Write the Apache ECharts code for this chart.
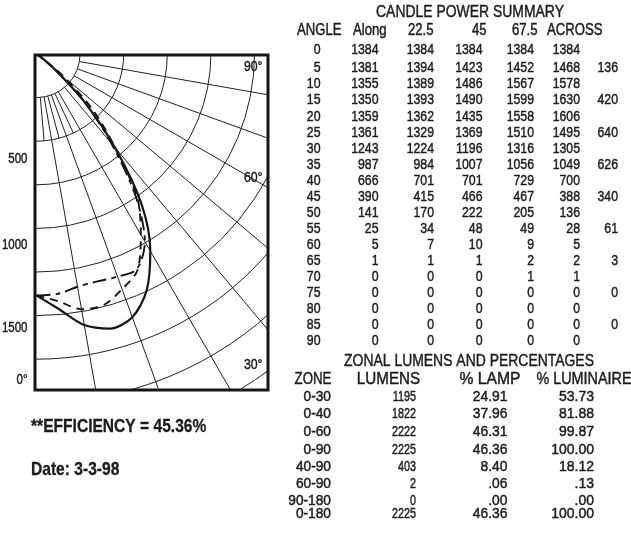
<!DOCTYPE html>
<html>
<head>
<meta charset="utf-8">
<script src="https://cdn.jsdelivr.net/npm/echarts@6/dist/echarts.min.js"></script>
<style>
  html, body { margin: 0; padding: 0; background: #fff; }
  #chart { width: 631px; height: 540px; }
</style>
</head>
<body>
<div id="chart"></div>
<script>
// candle power summary (cd) by vertical angle
var angles = [0, 5, 10, 15, 20, 25, 30, 35, 40, 45, 50, 55, 60, 65, 70, 75, 80, 85, 90];
var along  = [1384, 1381, 1355, 1350, 1359, 1361, 1243, 987, 666, 390, 141, 25, 5, 1, 0, 0, 0, 0, 0];
var cp225  = [1384, 1394, 1389, 1393, 1362, 1329, 1224, 984, 701, 415, 170, 34, 7, 1, 0, 0, 0, 0, 0];
var cp45   = [1384, 1423, 1486, 1490, 1435, 1369, 1196, 1007, 701, 466, 222, 48, 10, 1, 0, 0, 0, 0, 0];
var cp675  = [1384, 1452, 1567, 1599, 1558, 1510, 1316, 1056, 729, 467, 205, 49, 9, 2, 1, 0, 0, 0, 0];
var across = [1384, 1468, 1578, 1630, 1606, 1495, 1305, 1049, 700, 388, 136, 28, 5, 2, 1, 0, 0, 0, 0];
// last column, given on the odd rows (5, 15, 25 ...)
var zoneCol = [136, 420, 640, 626, 340, 61, 3, 0, 0];

// zonal lumens and percentages
var zones    = ['0-30', '0-40', '0-60', '0-90', '40-90', '60-90', '90-180', '0-180'];
var lumens   = [1195, 1822, 2222, 2225, 403, 2, 0, 2225];
var pctLamp  = ['24.91', '37.96', '46.31', '46.36', '8.40', '.06', '.00', '46.36'];
var pctLum   = ['53.73', '81.88', '99.87', '100.00', '18.12', '.13', '.00', '100.00'];

var radiusLabels = ['500', '1000', '1500', '0°'];
var angleLabels = ['90°', '60°', '30°'];
var gridAngles = [10, 20, 30, 40, 50, 60, 70, 80];
var fineAngles = [5, 15, 25];

var FONT = '"Liberation Sans", Arial, Helvetica, sans-serif';
var INK = '#1e1b1c';

var chart = echarts.init(document.getElementById('chart'));

function toPolar(vals) {
  return vals.map(function (v, i) { return [v, angles[i]]; });
}

// text squeezed horizontally to look like a condensed face
function txt(s, x, y, align, size, sx, bold) {
  return {
    type: 'text', z: 20, silent: true,
    x: x, y: y, scaleX: sx || 0.82,
    style: {
      text: s, x: 0, y: 0, textAlign: align || 'left', textVerticalAlign: 'middle',
      font: (bold ? 'bold ' : '') + size + 'px ' + FONT, fill: INK,
      stroke: INK, lineWidth: bold ? 0.3 : 0.45
    }
  };
}

var series = [];
gridAngles.forEach(function (a) {
  series.push({
    type: 'line', coordinateSystem: 'polar', silent: true, symbol: 'none', z: 2,
    lineStyle: { color: '#222', width: 1 },
    data: [[250, a], [2500, a]]
  });
});
fineAngles.forEach(function (a) {
  series.push({
    type: 'line', coordinateSystem: 'polar', silent: true, symbol: 'none', z: 2,
    lineStyle: { color: '#222', width: 1 },
    data: [[250, a], [500, a]]
  });
});

series.push({
  name: 'Across', type: 'line', coordinateSystem: 'polar', symbol: 'none', smooth: 0.3, z: 5,
  lineStyle: { color: '#151515', width: 2.2 },
  data: toPolar(across)
});
series.push({
  name: 'Along', type: 'line', coordinateSystem: 'polar', symbol: 'none', smooth: 0.3, z: 5,
  lineStyle: { color: '#151515', width: 1.9, type: [14, 5, 5, 5] },
  data: toPolar(along)
});
series.push({
  name: '45', type: 'line', coordinateSystem: 'polar', symbol: 'none', smooth: 0.3, z: 5,
  lineStyle: { color: '#151515', width: 1.9, type: [8, 6] },
  data: toPolar(cp45)
});

var g = [];
// white masks outside the plot frame
g.push({ type: 'rect', z: 10, silent: true, shape: { x: 0, y: 0, width: 631, height: 54 }, style: { fill: '#fff' } });
g.push({ type: 'rect', z: 10, silent: true, shape: { x: 0, y: 0, width: 34, height: 540 }, style: { fill: '#fff' } });
g.push({ type: 'rect', z: 10, silent: true, shape: { x: 269, y: 0, width: 362, height: 540 }, style: { fill: '#fff' } });
g.push({ type: 'rect', z: 10, silent: true, shape: { x: 0, y: 391, width: 631, height: 149 }, style: { fill: '#fff' } });
// frame
g.push({ type: 'rect', z: 20, silent: true, shape: { x: 35, y: 55, width: 233, height: 335 },
  style: { fill: 'none', stroke: '#151515', lineWidth: 3 } });

// plot labels
var rlY = [159, 245, 328, 380];
radiusLabels.forEach(function (s, i) { g.push(txt(s, 27.5, rlY[i], 'right', 14)); });
var alY = [67, 178, 365];
angleLabels.forEach(function (s, i) { g.push(txt(s, 262.5, alY[i], 'right', 15)); });

g.push(txt('**EFFICIENCY = 45.36%', 31, 427, 'left', 19, 0.82, true));
g.push(txt('Date: 3-3-98', 31, 470, 'left', 19, 0.82, true));

// candle power table
g.push(txt('CANDLE POWER SUMMARY', 470, 12, 'center', 17));
var headers = ['ANGLE', 'Along', '22.5', '45', '67.5', 'ACROSS'];
var headX = [297, 353, 408, 472, 512, 547];
headers.forEach(function (h, i) { g.push(txt(h, headX[i], 31, 'left', 16)); });
var colR = [320.5, 378.5, 434, 482.5, 534, 580, 618];
var cols = [angles, along, cp225, cp45, cp675, across];
angles.forEach(function (a, r) {
  var y = r === 0 ? 50 : 68.3 + (r - 1) * 16.02;
  cols.forEach(function (c, k) { g.push(txt(String(c[r]), colR[k], y, 'right', 15)); });
  if (r % 2 === 1) {
    g.push(txt(String(zoneCol[(r - 1) / 2]), colR[6], y, 'right', 15));
  }
});

// zonal table
g.push(txt('ZONAL LUMENS AND PERCENTAGES', 469, 361, 'center', 17));
var zHead = ['ZONE', 'LUMENS', '% LAMP', '% LUMINAIRE'];
var zHeadX = [313, 388.5, 490, 584];
var zHeadS = [0.83, 0.95, 0.98, 0.9];
zHead.forEach(function (h, i) { g.push(txt(h, zHeadX[i], 380, 'center', 16, zHeadS[i])); });
var zY = [397.3, 414.3, 431.7, 450, 466.7, 484.3, 501.5, 514];
zones.forEach(function (z, r) {
  g.push(txt(z, 331, zY[r], 'right', 14, 0.98));
  g.push(txt(String(lumens[r]), 416, zY[r], 'right', 14, 0.77));
  g.push(txt(pctLamp[r], 507.5, zY[r], 'right', 14, 0.99));
  g.push(txt(pctLum[r], 594, zY[r], 'right', 14, 1.0));
});

chart.setOption({
  backgroundColor: '#fff',
  animation: false,
  polar: { center: [36.5, 54], radius: 436 },
  angleAxis: {
    type: 'value', min: 0, max: 360, startAngle: 270, clockwise: false,
    axisLine: { show: false }, axisTick: { show: false }, axisLabel: { show: false },
    splitLine: { show: false }
  },
  radiusAxis: {
    type: 'value', min: 0, max: 2500, interval: 250,
    axisLine: { show: false }, axisTick: { show: false }, axisLabel: { show: false },
    splitLine: { show: true, lineStyle: { color: '#222', width: 1 } }
  },
  series: series,
  graphic: { elements: g }
});
</script>
</body>
</html>
